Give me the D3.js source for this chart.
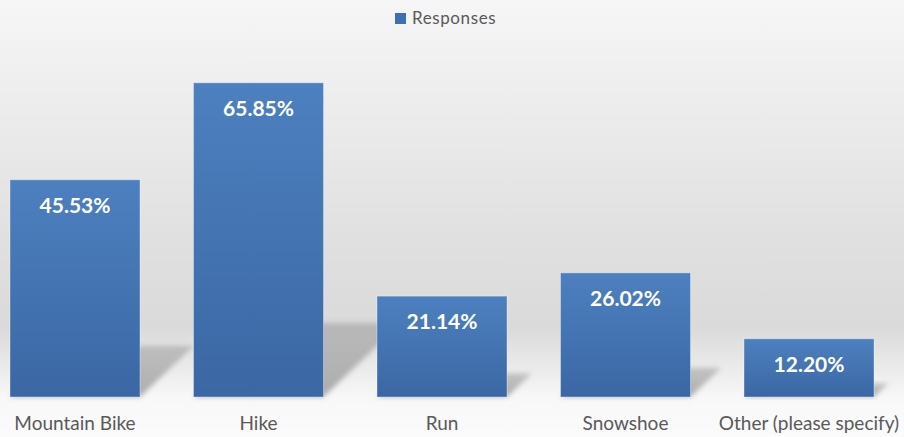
<!DOCTYPE html>
<html>
<head>
<meta charset="utf-8">
<script src="https://cdn.jsdelivr.net/npm/d3@7"></script>
<style>
  html, body { margin: 0; padding: 0; background: #fff; }
  svg { display: block; }
</style>
</head>
<body>
<script>
const categories = ["Mountain Bike", "Hike", "Run", "Snowshoe", "Other (please specify)"];
const responses = [45.53, 65.85, 21.14, 26.02, 12.20];
const seriesName = "Responses";

const W = 904, H = 437;
const baseY = 397;

const svg = d3.select("body").append("svg").attr("width", W).attr("height", H);
const defs = svg.append("defs");

const bg = defs.append("linearGradient").attr("id", "bg").attr("x1", 0).attr("y1", 0).attr("x2", 0).attr("y2", 1);
[[0, "#f6f6f6"], [0.2, "#eeeeee"], [0.55, "#e0e0e0"], [0.75, "#dadada"], [0.86, "#eeeeee"], [0.91, "#f8f8f8"], [1, "#fbfbfb"]]
  .forEach(([o, c]) => bg.append("stop").attr("offset", o).attr("stop-color", c));

const barG = defs.append("linearGradient").attr("id", "barG").attr("x1", 0).attr("y1", 0).attr("x2", 0).attr("y2", 1);
barG.append("stop").attr("offset", 0).attr("stop-color", "#4d80bf");
barG.append("stop").attr("offset", 1).attr("stop-color", "#3b67a4");

const shG = defs.append("linearGradient").attr("id", "shG").attr("x1", 0).attr("y1", 1).attr("x2", 0).attr("y2", 0);
shG.append("stop").attr("offset", 0).attr("stop-color", "#7a7a7a").attr("stop-opacity", 0.6);
shG.append("stop").attr("offset", 1).attr("stop-color", "#909090").attr("stop-opacity", 0.45);

const blur = defs.append("filter").attr("id", "blur").attr("x", "-20%").attr("y", "-20%").attr("width", "140%").attr("height", "140%");
blur.append("feGaussianBlur").attr("stdDeviation", 2.5);

svg.append("rect").attr("width", W).attr("height", H).attr("fill", "url(#bg)");

const x = d3.scaleBand().domain(categories).range([10, 874]).paddingInner(0.2916).paddingOuter(0);
const y = d3.scaleLinear().domain([0, 70]).range([baseY, 63]);

// shadows
svg.append("g").selectAll("path").data(categories).join("path")
  .attr("d", (c, i) => {
    const x0 = x(c), x1 = x(c) + x.bandwidth();
    const h = baseY - y(responses[i]);
    const sh = 0.236 * h, sd = sh * 1.05;
    return `M${x0},${baseY}L${x1},${baseY}L${x1 + sd},${baseY - sh}L${x0 + sd},${baseY - sh}Z`;
  })
  .attr("fill", "url(#shG)")
  .attr("filter", "url(#blur)");

// bars
svg.append("g").selectAll("rect").data(categories).join("rect")
  .attr("x", c => x(c))
  .attr("y", (c, i) => y(responses[i]))
  .attr("width", x.bandwidth())
  .attr("height", (c, i) => baseY - y(responses[i]))
  .attr("fill", "url(#barG)")
  .attr("stroke", "rgba(255,255,255,0.35)")
  .attr("stroke-width", 1);

// data labels
svg.append("g").selectAll("text").data(categories).join("text")
  .attr("x", c => x(c) + x.bandwidth() / 2)
  .attr("y", (c, i) => y(responses[i]) + 33)
  .attr("text-anchor", "middle")
  .attr("font-family", "Lato, 'Open Sans', sans-serif")
  .attr("font-weight", "bold")
  .attr("font-size", "21px")
  .attr("fill", "#ffffff")
  .text((c, i) => responses[i].toFixed(2) + "%");

// category axis labels
const axis = d3.axisBottom(x).tickSize(0).tickPadding(0);
const ag = svg.append("g").attr("transform", `translate(0,${baseY})`).call(axis);
ag.select(".domain").remove();
ag.selectAll("text")
  .attr("y", 33)
  .attr("dy", 0)
  .attr("font-family", "Lato, 'Open Sans', sans-serif")
  .attr("font-size", "19px")
  .attr("fill", "#595959");

// legend
const lg = svg.append("g");
lg.append("rect").attr("x", 395).attr("y", 13).attr("width", 11).attr("height", 11).attr("fill", "#3f6fb0");
lg.append("text").attr("x", 412).attr("y", 24)
  .attr("font-family", "Lato, 'Open Sans', sans-serif")
  .attr("font-size", "17px")
  .attr("letter-spacing", "0.6px")
  .attr("fill", "#595959")
  .text(seriesName);
</script>
</body>
</html>
